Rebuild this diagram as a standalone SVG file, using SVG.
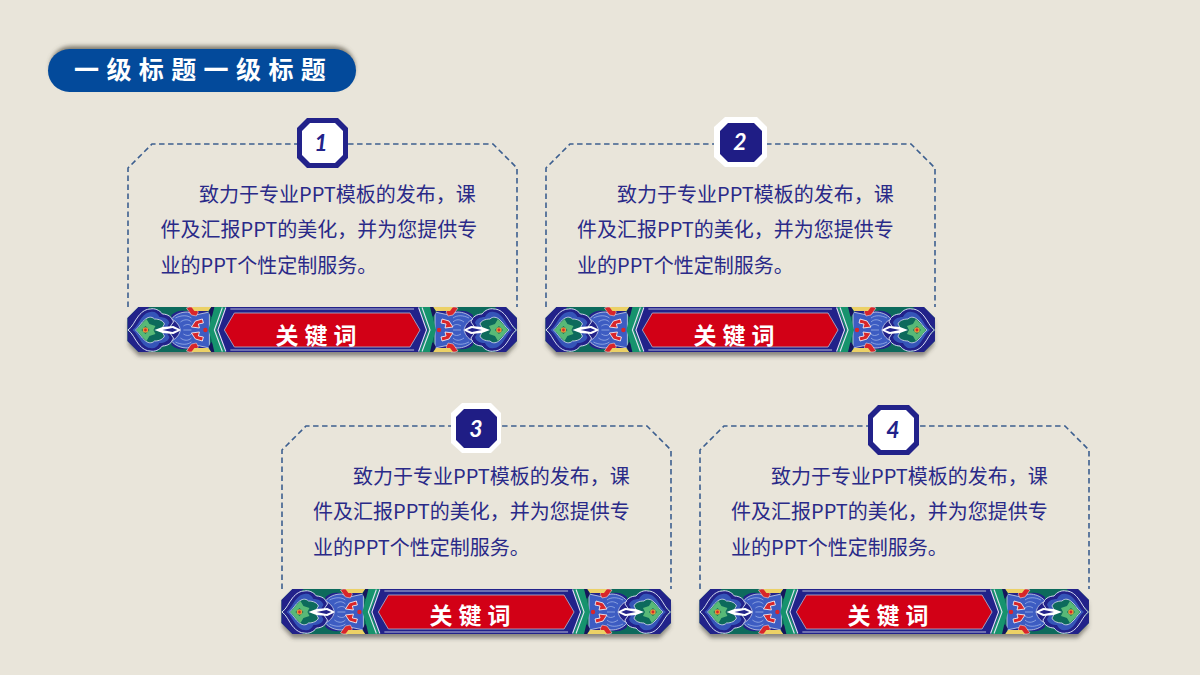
<svg xmlns="http://www.w3.org/2000/svg" width="1200" height="675" viewBox="0 0 1200 675">
<style>
.body{font-family:"Noto Sans CJK SC","Noto Sans",sans-serif;font-size:20px;fill:#2a2a88}
.kw{font-family:"Noto Sans CJK SC","Liberation Sans",sans-serif;font-size:23px;font-weight:700;fill:#fff;letter-spacing:6px;text-anchor:middle}
.title{font-family:"Noto Sans CJK SC","Liberation Sans",sans-serif;font-size:25px;font-weight:700;fill:#fff;letter-spacing:7.4px}
.num{font-family:Lato,"Liberation Sans",sans-serif;font-size:23px;font-weight:700;font-style:italic;text-anchor:middle}
.frame{fill:none;stroke:#3d5f8f;stroke-width:1.6;stroke-dasharray:5.5 3.5}
</style>
<defs>
<filter id="sh" x="-10%" y="-30%" width="120%" height="170%"><feGaussianBlur stdDeviation="2"/></filter>
<filter id="soft" x="-2%" y="-5%" width="104%" height="110%"><feGaussianBlur stdDeviation=".35"/></filter>
<g id="half">
<path d="M0 11 11 0H90V45H11L0 34Z" fill="#0c6a5c"/>
<path d="M0 11 11 0H22L0 23 22 45H11L0 34Z" fill="#22228a"/>
<path d="M44 8C48 4 54 3 58 4H80V42H58C54 43 48 42 44 38Z" fill="#22228a"/>
<path d="M.5 23C5 20 7 14 11 9 15 4 19 2 23 2 27 1 32 3 35 7 40 7 45 10 46 15 44 18 42 20 42 23 42 26 44 28 46 31 45 36 40 39 35 39 32 43 27 45 23 44 19 44 15 42 11 37 7 32 5 26 .5 23Z" fill="#22228a" stroke="#d7dcf0" stroke-width="1"/>
<path d="M5 23C9 20 11 15 14 11 17 7 20 5 23 5 27 4 30 6 32 10 37 10 41 12 42 16 40 19 39 21 39 23 39 25 40 27 42 30 41 34 37 36 32 36 30 40 27 42 23 41 20 41 17 39 14 35 11 31 9 26 5 23Z" fill="#3554b8"/>
<path d="M8 23C12 20 14 15 17 13 20 10 24 9 27 12 32 12 36 14 37 17 35 20 35 21 35 23 35 25 35 26 37 29 36 32 32 34 27 34 24 37 20 36 17 33 14 31 12 26 8 23Z" fill="#0c6a5c" stroke="#dfe3f2" stroke-width=".8"/>
<path d="M9 23 15 16 19 12 22 17 28 19 26 23 28 27 22 29 19 34 15 30Z" fill="#59b977"/>
<path d="M14 23 18 19 22 23 18 27Z" fill="#0c6a5c"/>
<circle cx="18" cy="23" r="2.800" fill="#e39b3a"/><circle cx="18" cy="23" r="1.400" fill="#d8282a"/>
<path d="M27 23 35 20 46 19 54 23 46 27 35 26Z" fill="#fff"/><path d="M35 23 45 21 50 23 45 25Z" fill="#22228a"/>
<path d="M44 12C48 7 54 5 60 5L68 8 82 5V41L68 38 60 41C54 41 48 39 44 34 50 31 52 27 53 23 52 19 50 15 44 12Z" fill="#3c5cc2" stroke="#cfd6ea" stroke-width=".8"/>
<g fill="none" stroke="#a9bceb" stroke-width=".7"><path d="M48 11C54 8 60 8 64 11M48 35C54 38 60 38 64 35M53 15C57 12 61 12 64 15M53 31C57 34 61 34 64 31M56 19C59 17 62 17 64 19M56 27C59 29 62 29 64 27M56 23H64"/></g>
<path d="M59 1 62 0H66L71 5 69 9 64 8Z" fill="#d8262c" stroke="#f2f0f0" stroke-width=".5"/><path d="M59 44 62 45H66L71 40 69 36 64 37Z" fill="#d8262c" stroke="#f2f0f0" stroke-width=".5"/>
<path d="M64 20 68 14 75 12 76 16 71 17 72 21Z" fill="#d8262c" stroke="#fff" stroke-width=".8"/>
<path d="M64 26 68 32 75 34 76 30 71 29 72 25Z" fill="#d8262c" stroke="#fff" stroke-width=".8"/>
<circle cx="78" cy="23" r="2.200" fill="#d8262c"/>
<path d="M64 0H84L81 4H67Z" fill="#ecd166"/><path d="M64 45H84L81 41H67Z" fill="#ecd166"/>
<path d="M81 5 84 0H92L84 10Z" fill="#14145c"/><path d="M81 40 84 45H92L84 35Z" fill="#14145c"/>
</g>
<g id="banner">
<use href="#half"/><use href="#half" transform="translate(390 0) scale(-1 1)"/>
<path d="M87 0H100L91 23 100 45H87L84 32 81 23 84 12Z" fill="#17936d"/>
<path d="M303 0H290L299 23 290 45H303L306 32 309 23 306 12Z" fill="#17936d"/>
<path d="M98 0H292L301 23 292 45H98L89 23Z" fill="#22228a"/>
<path d="M95 .5 87 23 95 44.500M98.500 .5 90.500 23 98.500 44.500" fill="none" stroke="#dfe3f2" stroke-width="1.100"/>
<path d="M295 .5 303 23 295 44.500M291.500 .5 299.500 23 291.500 44.500" fill="none" stroke="#dfe3f2" stroke-width="1.100"/>
<path d="M103 2H287M103 43H287" stroke="#b9bcd8" stroke-width="1"/>
<path d="M107 6H283L293 23 283 40H107L97 23Z" fill="#d20012" stroke="#a8a9c8" stroke-width=".9"/>
</g>
<g id="bannerAll" filter="url(#soft)"><use href="#banner"/></g>
<path id="bannerShadow" d="M1 15 11 4H379L389 15V38L379 49H11L1 38Z" fill="#4a453f" fill-opacity=".6" filter="url(#sh)"/>
<path id="oct1" d="M10 0H41L51 10V40L41 50H10L0 40V10Z"/>
<path id="frameLine" class="frame" d="M0 163V24L24 0H365L389 24V163"/>
</defs>
<rect width="1200" height="675" fill="#e9e5da"/>

<g id="title">
<rect x="50" y="46" width="305" height="42" rx="21" fill="#5e5a4e" fill-opacity=".75" filter="url(#sh)"/>
<rect x="48" y="49" width="308" height="43" rx="21.500" fill="#034a9b"/>
<text class="title" x="74" y="79">一级标题一级标题</text>
</g>

<g id="connectors"></g>

<g id="card1">
<use href="#frameLine" x="128" y="144"/>
<use href="#bannerShadow" transform="translate(127.500 307) scale(.9985 1)"/><use href="#bannerAll" transform="translate(127.500 307) scale(.9985 1)"/>
<g class="body"><text x="199" y="202">致力于专业PPT模板的发布，课</text><text x="160.500" y="237">件及汇报PPT的美化，并为您提供专</text><text x="160.500" y="273">业的PPT个性定制服务。</text></g>
<text class="kw" x="319" y="344">关键词</text>
<use href="#oct1" x="297" y="118" fill="#22228a"/>
<path d="M310 123H335L343 131V155L335 163H310L302 155V131Z" fill="#fff"/>
<text class="num" x="321" y="151" fill="#22228a">1</text>
</g>

<g id="card2">
<use href="#frameLine" x="546" y="144"/>
<use href="#bannerShadow" transform="translate(545.500 307) scale(.9985 1)"/><use href="#bannerAll" transform="translate(545.500 307) scale(.9985 1)"/>
<g class="body"><text x="617" y="202">致力于专业PPT模板的发布，课</text><text x="577" y="237">件及汇报PPT的美化，并为您提供专</text><text x="577" y="273">业的PPT个性定制服务。</text></g>
<text class="kw" x="737" y="344">关键词</text>
<path d="M725 117H757L767 127V157L757 167H725L714 157V127Z" fill="#fff"/>
<path d="M728 123H754L762 131V154L754 162H728L720 154V131Z" fill="#1f1d85"/>
<text class="num" x="740" y="150" fill="#fff">2</text>
</g>

<g id="card3">
<use href="#frameLine" x="282" y="426"/>
<use href="#bannerShadow" transform="translate(281.500 589) scale(.9985 1)"/><use href="#bannerAll" transform="translate(281.500 589) scale(.9985 1)"/>
<g class="body"><text x="353" y="484">致力于专业PPT模板的发布，课</text><text x="313" y="519">件及汇报PPT的美化，并为您提供专</text><text x="313" y="555">业的PPT个性定制服务。</text></g>
<text class="kw" x="473" y="624">关键词</text>
<path d="M462 403H491L501 413V443L491 453H462L451 443V413Z" fill="#fff"/>
<path d="M464 409H489L497 417V440L489 448H464L456 440V417Z" fill="#1f1d85"/>
<text class="num" x="476" y="437" fill="#fff">3</text>
</g>

<g id="card4">
<use href="#frameLine" x="700" y="426"/>
<use href="#bannerShadow" transform="translate(699.500 589) scale(.9985 1)"/><use href="#bannerAll" transform="translate(699.500 589) scale(.9985 1)"/>
<g class="body"><text x="771" y="484">致力于专业PPT模板的发布，课</text><text x="731" y="519">件及汇报PPT的美化，并为您提供专</text><text x="731" y="555">业的PPT个性定制服务。</text></g>
<text class="kw" x="891" y="624">关键词</text>
<use href="#oct1" x="868" y="405" fill="#22228a"/>
<path d="M881 410H906L914 418V442L906 450H881L873 442V418Z" fill="#fff"/>
<text class="num" x="893" y="438" fill="#22228a">4</text>
</g>
</svg>
